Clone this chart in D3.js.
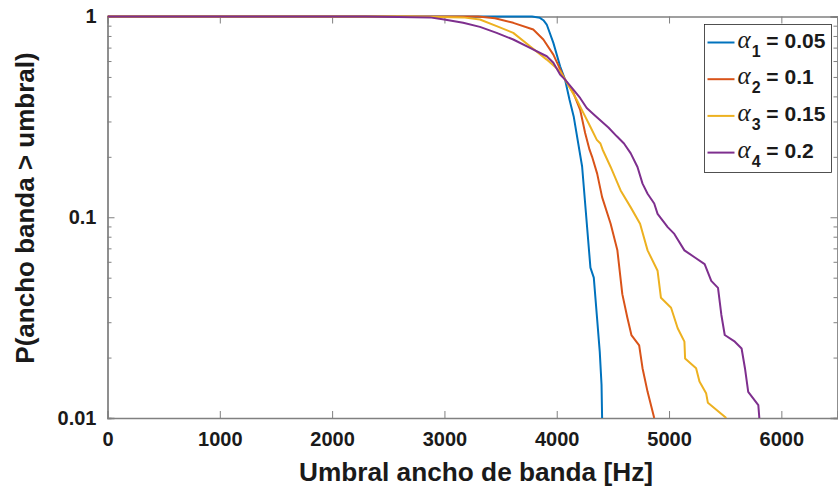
<!DOCTYPE html>
<html>
<head>
<meta charset="utf-8">
<script src="https://cdn.jsdelivr.net/npm/d3@7"></script>
<style>
  html, body { margin: 0; padding: 0; background: #fff; }
  svg { display: block; font-family: "Liberation Sans", Arial, sans-serif; }
</style>
</head>
<body>
<svg id="chart" width="838" height="491"></svg>
<script>
// Complementary CDF of bandwidth for four alpha values (Hz, probability)
const seriesNames = ["1", "2", "3", "4"];
const seriesValues = ["0.05", "0.1", "0.15", "0.2"];
const seriesColors = ["#0072BD", "#D95319", "#EDB120", "#7E2F8E"];

const hz1 = [0, 3780, 3850, 3881, 3911, 3970, 4030, 4074, 4114, 4151, 4226, 4300, 4330, 4359, 4383, 4399, 4404];
const p1  = [1, 1, 0.985, 0.958, 0.912, 0.739, 0.565, 0.485, 0.385, 0.318, 0.179, 0.0561, 0.05, 0.0315, 0.0214, 0.0146, 0.01];

const hz2 = [0, 3300, 3450, 3613, 3791, 3881, 3970, 4045, 4074, 4148, 4208, 4253, 4292, 4315, 4360, 4404, 4480, 4540, 4584, 4629, 4665, 4734, 4764, 4809, 4868];
const p2  = [1, 1, 0.98, 0.93, 0.861, 0.768, 0.646, 0.524, 0.485, 0.416, 0.344, 0.263, 0.217, 0.2, 0.165, 0.126, 0.0928, 0.0684, 0.0414, 0.0316, 0.0259, 0.023, 0.0177, 0.0135, 0.01];

const hz3 = [0, 2700, 3165, 3316, 3465, 3613, 3762, 3911, 4030, 4074, 4178, 4237, 4297, 4357, 4389, 4409, 4480, 4569, 4659, 4742, 4809, 4898, 4928, 5018, 5077, 5137, 5143, 5241, 5271, 5330, 5346, 5510];
const p3  = [1, 1, 0.99, 0.966, 0.895, 0.829, 0.711, 0.61, 0.533, 0.485, 0.385, 0.331, 0.284, 0.243, 0.233, 0.217, 0.178, 0.136, 0.112, 0.0928, 0.0684, 0.0541, 0.0397, 0.0354, 0.028, 0.024, 0.0198, 0.0177, 0.0152, 0.0133, 0.0119, 0.01];

const hz4 = [0, 2300, 2870, 2998, 3167, 3316, 3465, 3613, 3762, 3911, 3970, 4030, 4074, 4148, 4208, 4267, 4330, 4460, 4535, 4599, 4659, 4719, 4764, 4809, 4868, 4898, 4988, 5047, 5137, 5227, 5317, 5376, 5436, 5466, 5496, 5586, 5646, 5676, 5705, 5795, 5804];
const p4  = [1, 1, 0.99, 0.966, 0.93, 0.888, 0.829, 0.768, 0.698, 0.634, 0.588, 0.514, 0.485, 0.432, 0.393, 0.35, 0.325, 0.28, 0.253, 0.233, 0.208, 0.178, 0.147, 0.131, 0.117, 0.104, 0.0893, 0.0826, 0.0684, 0.0632, 0.0584, 0.0482, 0.0445, 0.0326, 0.0259, 0.024, 0.0222, 0.0177, 0.0135, 0.0116, 0.01];

const xTicks = [0, 1000, 2000, 3000, 4000, 5000, 6000];
const yTicks = [0.01, 0.1, 1];
const yTickLabels = ["0.01", "0.1", "1"];
const xLabel = "Umbral ancho de banda [Hz]";
const yLabel = "P(ancho banda > umbral)";

const hzSeries = [hz1, hz2, hz3, hz4];
const pSeries = [p1, p2, p3, p4];

const svg = d3.select("#chart");
const margin = { left: 107.5, right: 0.5, top: 16.5, bottom: 73 };
const W = 838, H = 491;
const x0 = margin.left, x1 = W - margin.right, y0 = margin.top, y1 = H - margin.bottom;

const x = d3.scaleLinear().domain([0, 6500]).range([x0, x1]);
const y = d3.scaleLog().domain([0.01, 1]).range([y1, y0]);

const axisColor = "#808080";
const textColor = "#1a1a1a";
const majorLen = 7, minorLen = 4;

// minor log ticks
const minorTicks = [];
for (const d of [0.01, 0.1]) for (let k = 2; k <= 9; k++) minorTicks.push(d * k);

const g = svg.append("g");

// Bottom axis (ticks inward) with labels
g.append("g").attr("transform", `translate(0,${y1})`)
  .call(d3.axisBottom(x).tickValues(xTicks).tickSize(-majorLen).tickPadding(14).tickFormat(d3.format("d")));
// Top axis ticks
g.append("g").attr("transform", `translate(0,${y0})`)
  .call(d3.axisTop(x).tickValues(xTicks).tickSize(-majorLen).tickFormat(""));
// Left axis with labels
g.append("g").attr("transform", `translate(${x0},0)`)
  .call(d3.axisLeft(y).tickValues(yTicks).tickSize(-majorLen).tickPadding(11).tickFormat(d => yTickLabels[yTicks.indexOf(d)]));
g.append("g").attr("transform", `translate(${x0},0)`)
  .call(d3.axisLeft(y).tickValues(minorTicks).tickSize(-minorLen).tickFormat(""));
// Right axis ticks
g.append("g").attr("transform", `translate(${x1},0)`)
  .call(d3.axisRight(y).tickValues(yTicks).tickSize(-majorLen).tickFormat(""));
g.append("g").attr("transform", `translate(${x1},0)`)
  .call(d3.axisRight(y).tickValues(minorTicks).tickSize(-minorLen).tickFormat(""));

g.selectAll(".domain").attr("stroke", axisColor).attr("stroke-width", 1.3);
g.selectAll(".tick line").attr("stroke", axisColor).attr("stroke-width", 1);
g.selectAll(".tick text")
  .attr("fill", textColor)
  .attr("font-size", 20)
  .attr("font-weight", "bold")
  .attr("font-family", "'Liberation Sans', Arial, sans-serif");

// Axis titles
svg.append("text")
  .attr("x", 476).attr("y", 481)
  .attr("text-anchor", "middle")
  .attr("font-size", 26).attr("font-weight", "bold")
  .attr("textLength", 354).attr("lengthAdjust", "spacingAndGlyphs")
  .attr("fill", textColor)
  .text(xLabel);

svg.append("text")
  .attr("transform", `translate(34,208) rotate(-90)`)
  .attr("text-anchor", "middle")
  .attr("font-size", 26).attr("font-weight", "bold")
  .attr("fill", textColor)
  .text(yLabel);

// Curves
const line = d3.line()
  .x(d => x(d[0]))
  .y(d => y(d[1]));

svg.append("defs").append("clipPath").attr("id", "plotClip")
  .append("rect").attr("x", x0).attr("y", y0 - 2).attr("width", x1 - x0).attr("height", y1 - y0 + 2);

const curves = svg.append("g").attr("clip-path", "url(#plotClip)");
hzSeries.forEach((hz, i) => {
  const pts = hz.map((h, j) => [h, pSeries[i][j]]);
  curves.append("path")
    .datum(pts)
    .attr("fill", "none")
    .attr("stroke", seriesColors[i])
    .attr("stroke-width", 2)
    .attr("stroke-linejoin", "round")
    .attr("d", line);
});

// Legend
const lg = svg.append("g");
const lx = 704.5, ly = 24.5, lw = 127, lh = 148;
lg.append("rect")
  .attr("x", lx).attr("y", ly).attr("width", lw).attr("height", lh)
  .attr("fill", "#fff").attr("stroke", "#262626").attr("stroke-width", 0.8);

seriesNames.forEach((s, i) => {
  const cy = ly + 18 + i * 36.7;
  lg.append("line")
    .attr("x1", lx + 3).attr("x2", lx + 30)
    .attr("y1", cy).attr("y2", cy)
    .attr("stroke", seriesColors[i]).attr("stroke-width", 2);
  const t = lg.append("text")
    .attr("x", lx + 33).attr("y", cy + 5)
    .attr("fill", textColor);
  t.append("tspan")
    .attr("font-family", "'Liberation Serif', 'DejaVu Serif', serif")
    .attr("font-style", "italic")
    .attr("font-size", 25)
    .text("α");
  t.append("tspan")
    .attr("font-size", 16).attr("font-weight", "bold")
    .attr("dx", 1).attr("dy", 9)
    .text(s);
  t.append("tspan")
    .attr("font-size", 21).attr("font-weight", "bold")
    .attr("dy", -9)
    .text(" = " + seriesValues[i]);
});
</script>
</body>
</html>
